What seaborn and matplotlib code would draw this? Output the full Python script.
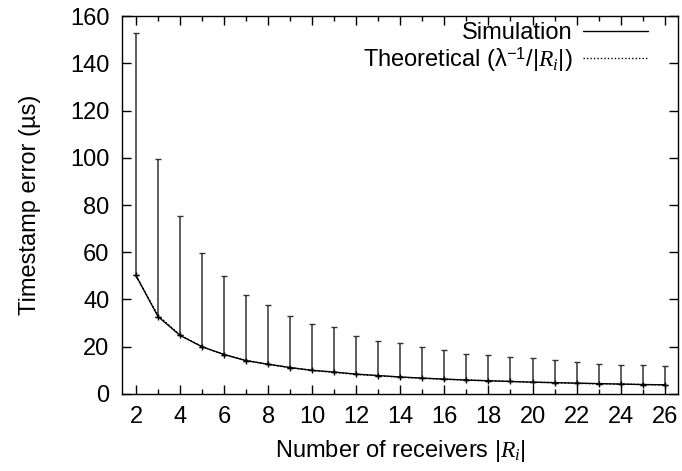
import numpy as np
import pandas as pd
import matplotlib
matplotlib.use("Agg")
import matplotlib.pyplot as plt
from matplotlib.lines import Line2D
from matplotlib.ticker import MultipleLocator
import seaborn as sns

# Number of receivers |R_i|
receivers = list(range(2, 27))
# Simulated mean timestamp error (us)
sim_mean = [50.2, 32.8, 24.8, 20.0, 16.7, 14.1, 12.6, 11.2, 10.0, 9.3, 8.4,
            7.8, 7.2, 6.7, 6.3, 5.9, 5.6, 5.3, 5.0, 4.8, 4.6, 4.4, 4.2, 4.0, 3.9]
# Top of the simulation error bars (us)
sim_upper = [152.9, 99.5, 75.3, 59.5, 49.9, 42.0, 37.8, 32.9, 29.5, 28.2, 24.5,
             22.6, 21.4, 19.8, 18.8, 17.1, 16.4, 15.8, 15.1, 14.3, 13.7, 12.7,
             12.1, 12.1, 11.9]
# Theoretical error lambda^-1 / |R_i| with lambda^-1 = 100 us
theory = [50.0, 33.3, 25.0, 20.0, 16.7, 14.3, 12.5, 11.1, 10.0, 9.1, 8.3,
          7.7, 7.1, 6.7, 6.25, 5.9, 5.6, 5.3, 5.0, 4.8, 4.5, 4.3, 4.2, 4.0, 3.8]
x_ticks = list(range(2, 27, 2))
y_ticks = list(range(0, 161, 20))

df = pd.DataFrame({"receivers": receivers, "sim": sim_mean,
                   "upper": sim_upper, "theory": theory})

FS = 17

sns.set_theme(style="ticks")
plt.rcParams.update({
    "font.family": ["Liberation Sans", "DejaVu Sans"],
    "mathtext.fontset": "custom",
    "mathtext.rm": "Liberation Sans",
    "mathtext.it": "Liberation Serif:style=italic",
    "font.size": FS,
    "text.color": "black",
    "axes.labelcolor": "black",
    "xtick.color": "black",
    "ytick.color": "black",
    "axes.edgecolor": "black",
    "axes.linewidth": 1.0,
})

fig = plt.figure(figsize=(6.82, 4.71), dpi=100)
ax = fig.add_axes([0.179, 0.1635, 0.815, 0.8025])

# upper-only error bars
ax.errorbar(df["receivers"], df["sim"],
            yerr=[np.zeros(len(df)), df["upper"] - df["sim"]],
            fmt="none", ecolor="#333333", elinewidth=1.1,
            capsize=2.5, capthick=1.0, zorder=2)

sns.lineplot(data=df, x="receivers", y="theory", ax=ax, color="black",
             linestyle=(0, (1, 1.5)), linewidth=1.0, zorder=3)
sns.lineplot(data=df, x="receivers", y="sim", ax=ax, color="black",
             linewidth=1.0, marker="+", markersize=5, markeredgewidth=1.0,
             markeredgecolor="black", zorder=4)

ax.set_xlim(1.37, 26.6)
ax.set_ylim(0, 160)
ax.set_xticks(x_ticks)
ax.set_yticks(y_ticks)
ax.xaxis.set_minor_locator(MultipleLocator(1))
ax.tick_params(which="major", direction="in", top=True, right=True,
               length=6.5, width=1.0, labelsize=FS, pad=9, color="black")
ax.tick_params(which="minor", direction="in", top=True, right=False,
               length=3.5, width=1.0, color="black")
ax.tick_params(axis="y", which="minor", left=False, right=False)

ax.set_xlabel(r"Number of receivers |$R_i$|", fontsize=FS, labelpad=7)
ax.set_ylabel("Timestamp error (µs)", fontsize=FS, labelpad=21)

handles = [Line2D([], [], color="black", linewidth=1.0),
           Line2D([], [], color="black", linewidth=1.0, linestyle=(0, (1, 1.5)))]
labels = ["Simulation", r"Theoretical (λ$^{-1}$/|$R_i$|)"]
ax.legend(handles, labels, loc="upper right", bbox_to_anchor=(0.95, 0.991),
          frameon=False, markerfirst=False, fontsize=FS, handlelength=2.75,
          handletextpad=0.45, labelspacing=0.05, borderaxespad=0.0,
          borderpad=0.1)

fig.savefig("out.png", dpi=100)
